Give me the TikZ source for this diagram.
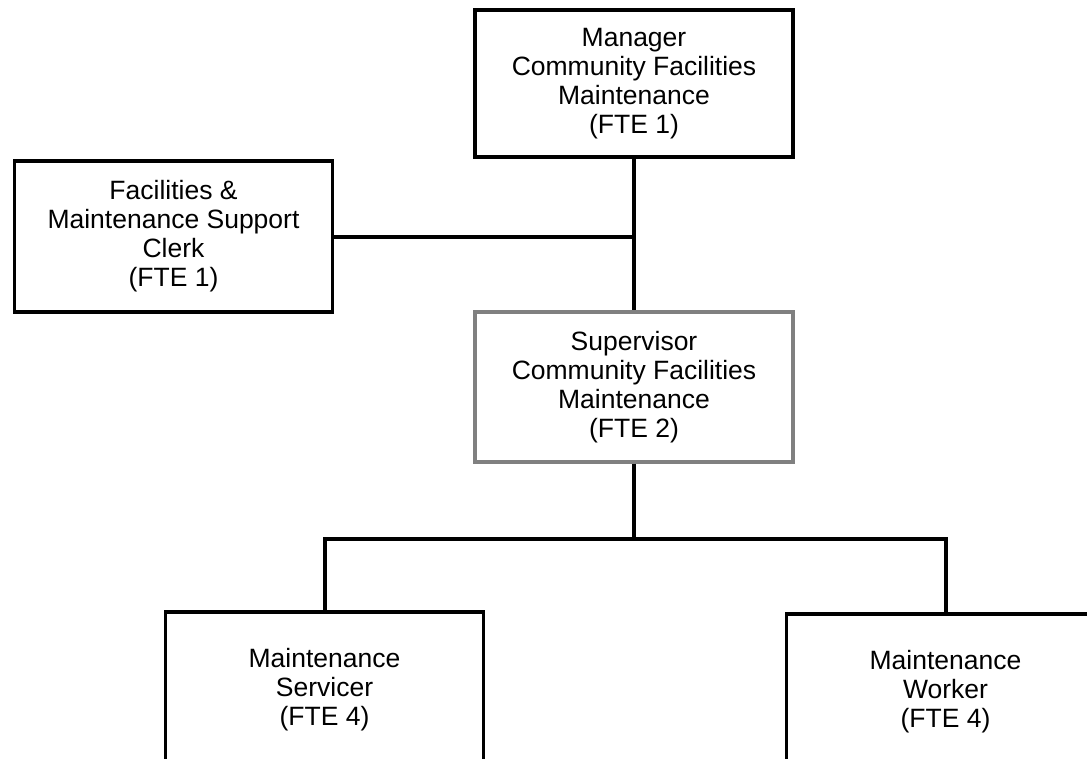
\documentclass[tikz,border=0pt]{standalone}
\usepackage{fontspec}
\setmainfont{Liberation Sans}
\usepackage{tikz}
\usepackage{xcolor}

\begin{document}
\begin{tikzpicture}[
  x=1pt, y=-1pt,
  font=\fontsize{26.5}{29}\selectfont,
  post/.style={draw, line width=3.2pt, fill=white, align=center,
    minimum width=318pt, inner sep=0pt},
  lead/.style={post, draw=black!50},
  link/.style={line width=4pt},
]
\path[use as bounding box, clip] (0,0) rectangle (1087,758);

\node[post, minimum height=147pt] (mgr) at (634, 83.5) {%
  Manager\\Community Facilities\\Maintenance\\(FTE 1)};

\node[post, minimum height=151pt] (clerk) at (173.5, 236.5) {%
  Facilities \&\\Maintenance Support\\Clerk\\(FTE 1)};

\node[lead, minimum height=150pt] (sup) at (634, 387) {%
  Supervisor\\Community Facilities\\Maintenance\\(FTE 2)};

\node[post, minimum height=156pt] (serv) at (324.5, 690) {%
  Maintenance\\Servicer\\(FTE 4)};

\node[post, minimum height=156pt] (work) at (945.5, 692) {%
  Maintenance\\Worker\\(FTE 4)};

\coordinate (tee) at (clerk.east -| mgr.south);
\coordinate (bus) at (634, 539);

\draw[link] (mgr.south) -- (sup.north);
\draw[link] (clerk.east) -- (tee);
\draw[link] (sup.south) -- (bus);
\draw[link] (serv.north) |- (bus);
\draw[link] (work.north) |- (bus);

\end{tikzpicture}
\end{document}
